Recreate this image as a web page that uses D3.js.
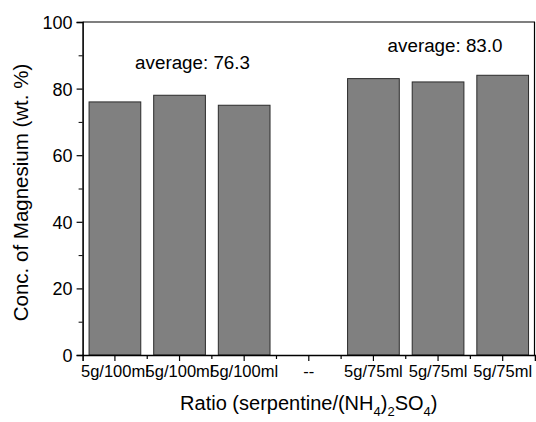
<!DOCTYPE html>
<html>
<head>
<meta charset="utf-8">
<script src="https://cdn.jsdelivr.net/npm/d3@7"></script>
<style>
  body { margin: 0; background: #fff; }
  text { font-family: "Liberation Sans", Arial, sans-serif; fill: #000; }
</style>
</head>
<body>
<div id="chart"></div>
<script>
// categories along the x axis (the "--" slot is empty)
const categories = ["5g/100ml", "5g/100ml", "5g/100ml", "--", "5g/75ml", "5g/75ml", "5g/75ml"];
// Mg concentration, wt.%
const values = [76, 78, 75, null, 83, 82, 84];
// groups that get an "average" note
const groups = [[0, 1, 2], [4, 5, 6]];
const yTicks = [0, 20, 40, 60, 80, 100];
const yMinorTicks = [10, 30, 50, 70, 90];

let margin = {top: 22, right: 1, bottom: 67, left: 82.6},
  width = 536 - margin.left - margin.right,
  height = 422 - margin.top - margin.bottom;

let svg = d3.select("#chart").append("svg")
  .attr("width", 536)
  .attr("height", 422)
  .append("g")
  .attr("transform", "translate(" + margin.left + "," + margin.top + ")");

let x = d3.scaleBand()
  .domain(d3.range(categories.length))
  .range([0, width])
  .paddingInner(0.2)
  .paddingOuter(0.1);

// full-width slots for the ticks
let slot = d3.scaleBand()
  .domain(d3.range(categories.length))
  .range([0, width]);

let y = d3.scaleLinear()
  .domain([0, 100])
  .range([height, 0]);

// bars
svg.selectAll(".bar")
  .data(values.map(function (v, i) { return {i: i, v: v}; }).filter(function (d) { return d.v != null; }))
  .enter()
  .append("rect")
  .attr("x", function (d) { return x(d.i); })
  .attr("y", function (d) { return y(d.v); })
  .attr("width", x.bandwidth())
  .attr("height", function (d) { return y(0) - y(d.v); })
  .style("fill", "#808080")
  .style("stroke", "#2b2b2b")
  .style("stroke-width", 1);

// frame top and right
svg.append("line")
  .attr("x1", 0).attr("x2", width).attr("y1", 0).attr("y2", 0)
  .attr("stroke", "#000").attr("stroke-width", 1.2);
svg.append("line")
  .attr("x1", width - 0.5).attr("x2", width - 0.5).attr("y1", 0).attr("y2", height)
  .attr("stroke", "#000").attr("stroke-width", 1.2);

// y axis
let yAxis = svg.append("g")
  .call(d3.axisLeft(y).tickValues(yTicks).tickSize(6).tickPadding(4));
svg.append("g")
  .call(d3.axisLeft(y).tickValues(yMinorTicks).tickSize(4).tickFormat(""))
  .select(".domain").remove();

// x axis: major ticks at centers, minor ticks at slot edges
let xAxis = svg.append("g")
  .attr("transform", "translate(0," + height + ")")
  .call(d3.axisBottom(slot).tickSize(6).tickPadding(4)
    .tickFormat(function (i) { return categories[i]; }));
svg.append("g")
  .attr("transform", "translate(0," + height + ")")
  .selectAll("line")
  .data(d3.range(1, categories.length))
  .enter()
  .append("line")
  .attr("x1", function (i) { return slot(i); })
  .attr("x2", function (i) { return slot(i); })
  .attr("y1", 0).attr("y2", 4)
  .attr("stroke", "#000").attr("stroke-width", 1.2);

[yAxis, xAxis].forEach(function (a) {
  a.select(".domain").attr("stroke-width", 1.6);
  a.selectAll(".tick line").attr("stroke-width", 1.2);
});
svg.selectAll("g line").attr("stroke", "#000");
yAxis.selectAll("text").style("font-size", "18px").attr("dy", "0.36em");
xAxis.selectAll("text").style("font-size", "16.5px");

// average notes
const noteY = [86, 91];
const noteShift = [13, 7];
groups.forEach(function (g, k) {
  let avg = d3.mean(g, function (i) { return values[i]; });
  svg.append("text")
    .attr("x", slot(g[1]) + slot.bandwidth() / 2 + noteShift[k])
    .attr("y", y(noteY[k]))
    .attr("text-anchor", "middle")
    .style("font-size", "18.8px")
    .text("average: " + avg.toFixed(1));
});

// axis titles
svg.append("text")
  .attr("transform", "translate(" + (-margin.left + 28) + "," + (height / 2 + 4) + ") rotate(-90)")
  .attr("text-anchor", "middle")
  .style("font-size", "20.5px")
  .text("Conc. of Magnesium (wt. %)");

let xt = svg.append("text")
  .attr("x", width / 2)
  .attr("y", height + 55)
  .attr("text-anchor", "middle")
  .style("font-size", "20px");
xt.append("tspan").text("Ratio (serpentine/(NH");
xt.append("tspan").attr("dy", 6).style("font-size", "13px").text("4");
xt.append("tspan").attr("dy", -6).text(")");
xt.append("tspan").attr("dy", 6).style("font-size", "13px").text("2");
xt.append("tspan").attr("dy", -6).text("SO");
xt.append("tspan").attr("dy", 6).style("font-size", "13px").text("4");
xt.append("tspan").attr("dy", -6).text(")");
</script>
</body>
</html>
